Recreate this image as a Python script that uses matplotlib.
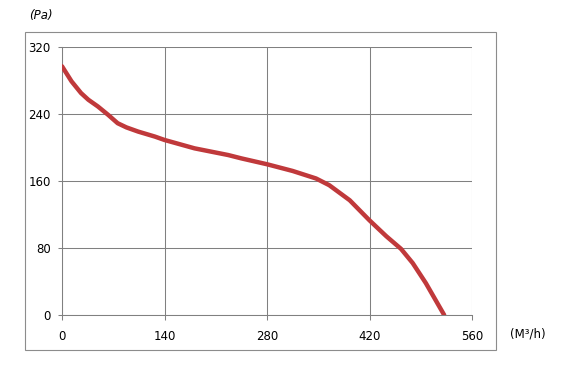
import matplotlib.pyplot as plt
from matplotlib.patches import Rectangle

# airflow (m3/h) vs static pressure (Pa)
flow = [0, 13, 26, 36, 49, 63, 76, 88, 104, 127, 140, 181, 227, 245, 280, 315, 347, 365, 393, 420, 443, 463, 479, 497, 522]
pressure = [297, 279, 265, 257, 249, 239, 229, 224, 219, 213, 209, 199, 191, 187, 180, 172, 163, 155, 137, 113, 94, 79, 62, 38, 0]
x_ticks = [0, 140, 280, 420, 560]
y_ticks = [0, 80, 160, 240, 320]

fig = plt.figure(figsize=(5.63, 3.72), dpi=100)
fig.patches.append(Rectangle((25 / 563, 1 - 350 / 372), 471 / 563, 318 / 372,
                             transform=fig.transFigure, fill=False,
                             edgecolor='#8c8c8c', linewidth=0.8))

ax = fig.add_axes([62 / 563, 1 - 315 / 372, 410 / 563, 268 / 372])
ax.plot(flow, pressure, color='#c0393b', linewidth=3.2, solid_capstyle='round',
        solid_joinstyle='round', zorder=3)

ax.set_xlim(0, 560)
ax.set_ylim(0, 320)
ax.set_xticks(x_ticks)
ax.set_yticks(y_ticks)
ax.grid(True, color='#808080', linewidth=0.75)
for side in ['top', 'right']:
    ax.spines[side].set_visible(False)
for side in ['left', 'bottom']:
    ax.spines[side].set_color('#808080')
    ax.spines[side].set_linewidth(0.75)
ax.tick_params(axis='x', length=3.5, width=0.75, color='#808080', pad=7, labelsize=8.5)
ax.tick_params(axis='y', length=3, width=0.75, color='#808080', pad=5, labelsize=8.5)

fig.text(29 / 563, 1 - 15 / 372, '(Pa)', fontsize=8.5, style='italic', va='center', ha='left')
fig.text(510 / 563, 1 - 334 / 372, '(M³/h)', fontsize=8.5, va='center', ha='left')

fig.savefig('out.png', dpi=100)
